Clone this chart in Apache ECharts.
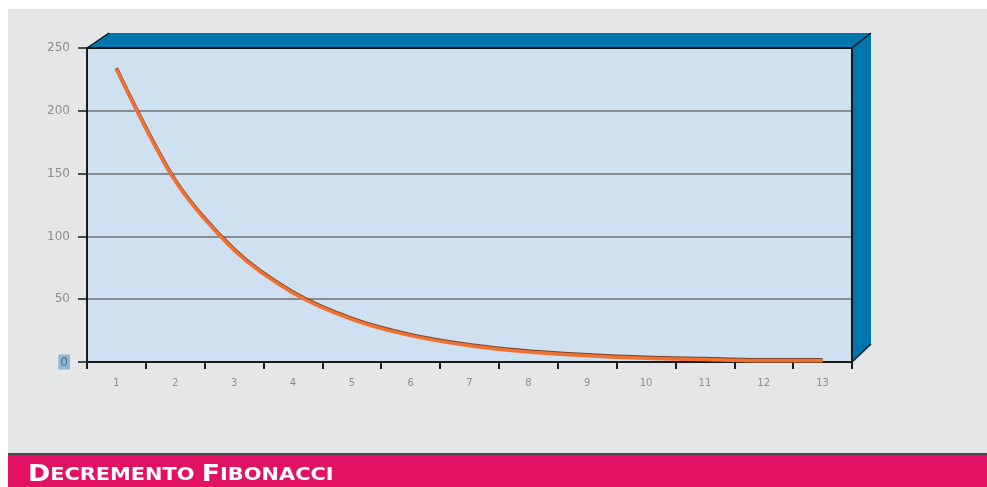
<!DOCTYPE html>
<html>
<head>
<meta charset="utf-8">
<script src="https://cdn.jsdelivr.net/npm/echarts@6/dist/echarts.min.js"></script>
<style>
  html, body { margin: 0; padding: 0; background: #ffffff; }
  #chart { width: 987px; height: 487px; }
</style>
</head>
<body>
<div id="chart"></div>
<script>
// Fibonacci sequence, read backwards: each step is the sum of the next two
const steps = ['1', '2', '3', '4', '5', '6', '7', '8', '9', '10', '11', '12', '13'];
const values = [233, 144, 89, 55, 34, 21, 13, 8, 5, 3, 2, 1, 1];
const yTicks = [0, 50, 100, 150, 200, 250];
const titleParts = [['D', 'ECREMENTO '], ['F', 'IBONACCI']];

// plot frame (pixels) and the depth of the 3D box drawn around it
const G = { left: 87, top: 48, width: 765, height: 314 };
const D = { dx: 19, dy: -15, dxTop: 22 };
const right = G.left + G.width, bottom = G.top + G.height;

const chart = echarts.init(document.getElementById('chart'), null, { renderer: 'canvas' });

const titleRich = titleParts.map(([cap, rest]) => `{cap|${cap}}{sc|${rest}}`).join('');

chart.setOption({
  backgroundColor: '#ffffff',
  animation: false,
  grid: {
    left: G.left, top: G.top, width: G.width, height: G.height,
    show: true, backgroundColor: '#cfe0f1', borderWidth: 0
  },
  xAxis: {
    type: 'category',
    data: steps,
    boundaryGap: true,
    axisLine: { lineStyle: { color: '#1a1a1a', width: 2 } },
    axisTick: { show: true, length: 7, interval: 0, lineStyle: { color: '#1a1a1a', width: 2 } },
    axisLabel: { color: '#8a8c8f', fontSize: 10, fontFamily: 'DejaVu Sans', margin: 16, interval: 0 },
    splitLine: { show: false }
  },
  yAxis: {
    type: 'value',
    min: yTicks[0],
    max: yTicks[yTicks.length - 1],
    interval: yTicks[1] - yTicks[0],
    axisLine: { show: true, lineStyle: { color: '#1a1a1a', width: 2 } },
    axisTick: { show: true, length: 9, lineStyle: { color: '#1a1a1a', width: 1.5 } },
    axisLabel: {
      margin: 17,
      color: '#8a8c8f', fontSize: 12, fontFamily: 'DejaVu Sans',
      formatter: v => (v === 0 ? '{zero|' + v + '}' : String(v)),
      rich: {
        zero: { backgroundColor: '#8fb6d6', color: '#51708a', padding: [2, 2, 1, 2], fontSize: 12, fontFamily: 'DejaVu Sans' }
      }
    },
    splitLine: { show: true, lineStyle: { color: '#6c6f73', width: 1.5 } }
  },
  series: [{
    type: 'line',
    data: values,
    smooth: 0.3,
    showSymbol: false,
    symbol: 'none',
    z: 5,
    lineStyle: {
      color: '#ef7232', width: 3.5,
      shadowColor: 'rgba(110,40,10,0.85)', shadowBlur: 0, shadowOffsetY: -1
    }
  }],
  graphic: [
    // page background and bottom banner
    { type: 'rect', z: -100, shape: { x: 8, y: 9, width: 979, height: 444 }, style: { fill: '#e5e6e8' } },
    { type: 'rect', z: -100, shape: { x: 8, y: 453, width: 979, height: 2 }, style: { fill: '#4a4c4e' } },
    { type: 'rect', z: -100, shape: { x: 8, y: 455, width: 979, height: 32 }, style: { fill: '#e31163' } },
    {
      type: 'text', z: 10, x: 28, y: 487, scaleX: 1.16,
      style: {
        text: titleRich, textVerticalAlign: 'bottom', verticalAlign: 'bottom',
        rich: {
          cap: { fontSize: 23, fontWeight: 'bold', fontFamily: 'DejaVu Sans', fill: '#ffffff', color: '#ffffff' },
          sc: { fontSize: 18, fontWeight: 'bold', fontFamily: 'DejaVu Sans', fill: '#ffffff', color: '#ffffff' }
        }
      }
    },
    // top face of the box
    {
      type: 'polygon', z: 10,
      shape: { points: [[G.left, G.top], [G.left + D.dxTop, G.top + D.dy], [right + D.dx, G.top + D.dy], [right, G.top]] },
      style: { fill: '#0076ad', stroke: null }
    },
    // right face of the box
    {
      type: 'polygon', z: 10,
      shape: { points: [[right, G.top], [right + D.dx, G.top + D.dy], [right + D.dx, bottom - 18], [right, bottom]] },
      style: { fill: '#0076ad', stroke: null }
    },
    // box edges
    { type: 'polyline', z: 11, shape: { points: [[G.left, G.top], [right, G.top], [right, bottom]] }, style: { stroke: '#14181c', lineWidth: 2, fill: null } },
    { type: 'line', z: 11, shape: { x1: G.left, y1: G.top, x2: G.left + D.dxTop, y2: G.top + D.dy }, style: { stroke: '#14181c', lineWidth: 1.5 } },
    { type: 'line', z: 11, shape: { x1: right, y1: G.top, x2: right + D.dx, y2: G.top + D.dy }, style: { stroke: '#14181c', lineWidth: 1.5 } },
    { type: 'line', z: 11, shape: { x1: right, y1: bottom, x2: right + D.dx, y2: bottom - 18 }, style: { stroke: '#14181c', lineWidth: 1.5 } }
  ]
});
</script>
</body>
</html>
